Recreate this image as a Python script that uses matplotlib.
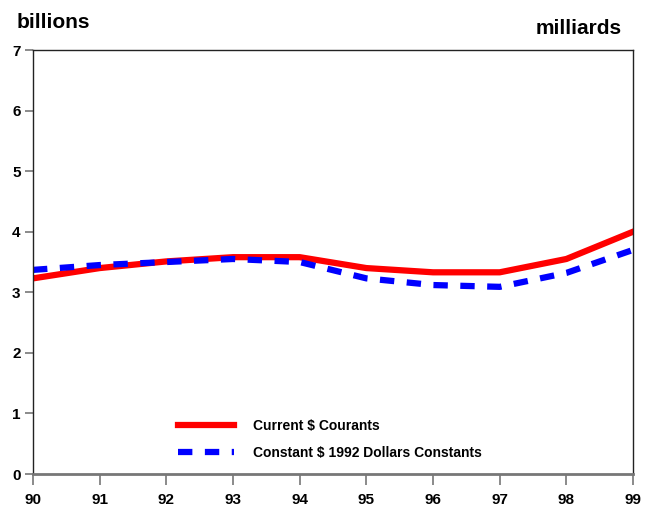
import matplotlib.pyplot as plt

years = [90, 91, 92, 93, 94, 95, 96, 97, 98, 99]
current = [3.23, 3.40, 3.51, 3.58, 3.58, 3.40, 3.33, 3.33, 3.55, 4.00]
constant = [3.37, 3.45, 3.50, 3.55, 3.50, 3.23, 3.12, 3.09, 3.32, 3.70]
year_labels = [str(y) for y in years]

plt.rcParams['font.family'] = ['Liberation Sans', 'DejaVu Sans']
plt.rcParams['font.weight'] = 'bold'

fig = plt.figure(figsize=(6.51, 5.12), dpi=100)
ax = fig.add_axes([0.0507, 0.0742, 0.9217, 0.8281])

ax.plot(years, current, color='#ff0000', lw=4.5, label='Current $ Courants')
ax.plot(years, constant, color='#0000ff', lw=4.5, ls=(0, (2.3, 2.0)),
        label='Constant $ 1992 Dollars Constants')

ax.set_xlim(90, 99)
ax.set_ylim(0, 7)
ax.set_xticks(years)
ax.set_xticklabels(year_labels)
ax.set_yticks(range(0, 8))

for s in ['top', 'right', 'left']:
    ax.spines[s].set_color('#222222')
    ax.spines[s].set_linewidth(1)
ax.spines['bottom'].set_color('#777777')
ax.spines['bottom'].set_linewidth(2)

ax.tick_params(axis='both', direction='out', color='#777777', labelsize=11, width=1.2)
ax.tick_params(axis='y', length=6, pad=3)
ax.tick_params(axis='x', length=8, pad=6)
for lab in ax.get_xticklabels() + ax.get_yticklabels():
    lab.set_fontweight('bold')

leg = ax.legend(loc='lower left', bbox_to_anchor=(0.22, 0.004), frameon=False,
                handlelength=4.1, fontsize=10, labelspacing=0.9, handletextpad=1.3)
for t in leg.get_texts():
    t.set_fontweight('bold')

fig.text(0.025, 0.975, 'billions', fontsize=15, fontweight='bold', ha='left', va='top')
fig.text(0.955, 0.962, 'milliards', fontsize=15, fontweight='bold', ha='right', va='top')

fig.savefig('out.png', dpi=100)
